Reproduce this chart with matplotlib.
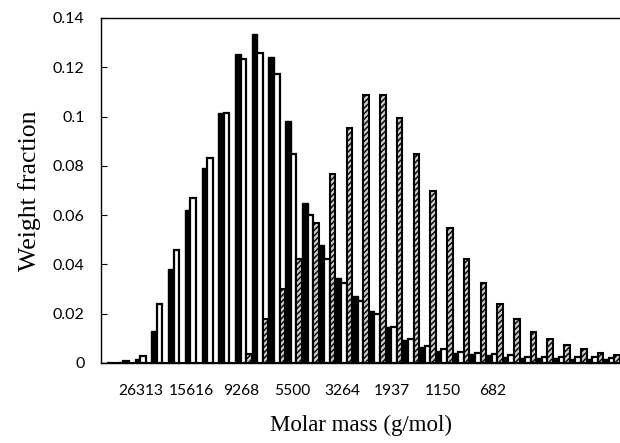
import numpy as np
import matplotlib.pyplot as plt

# Weight fraction per molar-mass class (three distributions)
black_vals = [0.0, 0.0003, 0.0015, 0.013, 0.038, 0.062, 0.079, 0.1015, 0.1254, 0.1335,
              0.1243, 0.0983, 0.0648, 0.048, 0.0344, 0.027, 0.021, 0.0147, 0.0093, 0.0066,
              0.005, 0.004, 0.0036, 0.0032, 0.0023, 0.0019, 0.0019, 0.0019, 0.0018, 0.0017,
              0.0017]
white_vals = [0.0, 0.0008, 0.003, 0.024, 0.046, 0.067, 0.083, 0.1015, 0.1232, 0.1257,
              0.1173, 0.0847, 0.060, 0.042, 0.0323, 0.025, 0.020, 0.0145, 0.0097, 0.007,
              0.0055, 0.0045, 0.0042, 0.0036, 0.0032, 0.0023, 0.0026, 0.0025, 0.0025, 0.0024,
              0.0022]
hatch_vals = [0.0, 0.0, 0.0, 0.0, 0.0, 0.0, 0.0, 0.0, 0.0035, 0.018,
              0.030, 0.042, 0.057, 0.0767, 0.0955, 0.1088, 0.1088, 0.0993, 0.0847, 0.0699,
              0.0547, 0.0422, 0.0323, 0.0238, 0.0177, 0.0127, 0.0096, 0.0073, 0.0056, 0.0042,
              0.0032]

tick_labels = ["26313", "15616", "9268", "5500", "3264", "1937", "1150", "682"]
tick_first = 2
tick_every = 3

n = len(black_vals)
x = np.arange(n)
w = 1.0 / 3

fig = plt.figure(figsize=(6.2, 4.43), dpi=100)
ax = fig.add_axes([0.163, 0.1806, 0.837, 0.7788])

ax.bar(x + w / 2, black_vals, width=w, color="black", edgecolor="black", linewidth=1.0)
ax.bar(x + 3 * w / 2, white_vals, width=w, color="white", edgecolor="black", linewidth=1.6)
ax.bar(x + 5 * w / 2, hatch_vals, width=w, color="#c8c8c8", edgecolor="black",
       linewidth=1.5, hatch="//////")

ax.set_xlim(0, n)
ax.set_ylim(0, 0.14)
ax.set_yticks(np.arange(0, 0.141, 0.02))
ax.set_yticklabels(["0", "0.02", "0.04", "0.06", "0.08", "0.1", "0.12", "0.14"])
ax.set_xticks(tick_first + tick_every * np.arange(len(tick_labels)) + 0.4)
ax.set_xticklabels(tick_labels)

ax.tick_params(axis="y", direction="in", length=4, pad=12, labelsize=11.5)
ax.tick_params(axis="x", length=0, pad=15, labelsize=11.2)
for lab in ax.get_xticklabels() + ax.get_yticklabels():
    lab.set_family("Lato")

ax.spines["right"].set_visible(False)
for s in ["left", "top", "bottom"]:
    ax.spines[s].set_linewidth(1.0)

ax.set_xlabel("Molar mass (g/mol)", family="Liberation Serif", fontsize=16.5, labelpad=12)
ax.set_ylabel("Weight fraction", family="Liberation Serif", fontsize=18.5, labelpad=8)

fig.savefig("out.png", dpi=100)
